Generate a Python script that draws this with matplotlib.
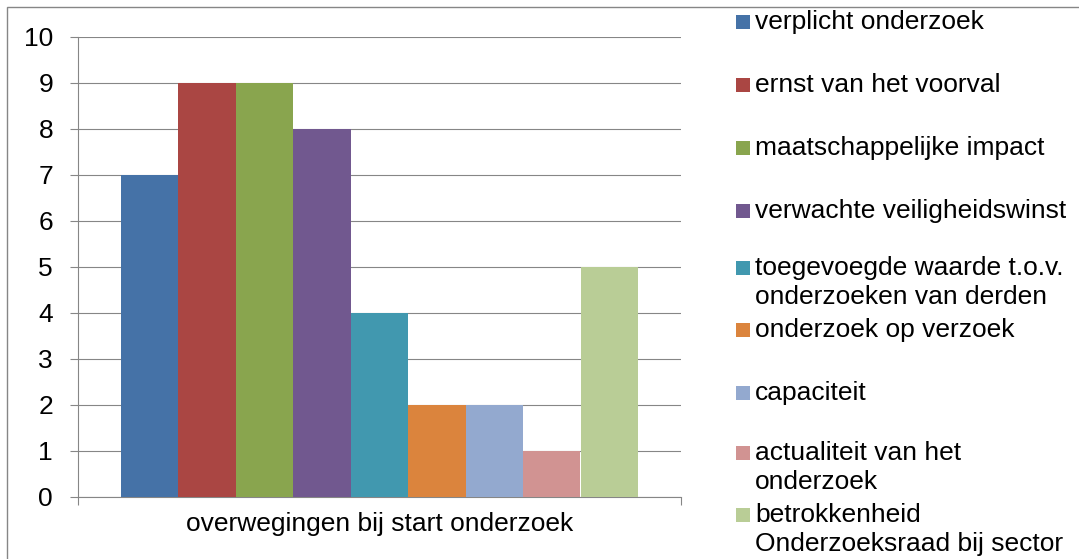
import matplotlib
matplotlib.use("Agg")
import matplotlib.pyplot as plt
from matplotlib.patches import Rectangle

categories = ["overwegingen bij start onderzoek"]
series_labels = [
    "verplicht onderzoek",
    "ernst van het voorval",
    "maatschappelijke impact",
    "verwachte veiligheidswinst",
    "toegevoegde waarde t.o.v.\nonderzoeken van derden",
    "onderzoek op verzoek",
    "capaciteit",
    "actualiteit van het\nonderzoek",
    "betrokkenheid\nOnderzoeksraad bij sector",
]
values = [7, 9, 9, 8, 4, 2, 2, 1, 5]
colors = ["#4572A7", "#AA4643", "#89A54E", "#71588F", "#4198AF",
          "#DB843D", "#93A9CF", "#D19392", "#B9CD96"]
yticks = list(range(0, 11))

plt.rcParams['font.family'] = ['Liberation Sans', 'DejaVu Sans']
FS = 19

W, H = 1079, 559
fig = plt.figure(figsize=(W / 100, H / 100), dpi=100)

def fx(px):
    return px / W

def fy(py):
    return 1 - py / H

# outer chart border
fig.patches.append(Rectangle((fx(7), fy(600)), fx(1200), fy(7) - fy(600),
                             transform=fig.transFigure, fill=False,
                             edgecolor="#868686", linewidth=1.0))

ax = fig.add_axes([fx(78), fy(497), fx(681) - fx(78), fy(37) - fy(497)])

n = len(values)
gap = 1.5
w = 1.0 / (n + gap)
start = -0.5 + gap * w / 2
for i, (v, c, lab) in enumerate(zip(values, colors, series_labels)):
    ax.bar(start + w * (i + 0.5), v, width=w, color=c, label=lab, zorder=3)

ax.set_xlim(-0.5, 0.5)
ax.set_ylim(0, 10)
ax.set_yticks(yticks)
ax.tick_params(axis='y', length=6, width=0.8, color="#868686", pad=12,
               labelsize=FS)
ax.yaxis.grid(True, color="#868686", linewidth=0.8, zorder=0)
ax.set_axisbelow(True)

ax.set_xticks([-0.5, 0.5])
ax.set_xticklabels(["", ""])
ax.tick_params(axis='x', which='major', length=6, width=0.8, color="#868686")
ax.set_xticks([0], minor=True)
ax.set_xticklabels(categories, minor=True)
ax.tick_params(axis='x', which='minor', length=0, pad=11, labelsize=FS)

for s in ["top", "right"]:
    ax.spines[s].set_visible(False)
for s in ["left", "bottom"]:
    ax.spines[s].set_color("#868686")
    ax.spines[s].set_linewidth(0.8)

# legend
entry_y = [22, 85, 148, 211, 268, 330, 393, 453, 515]
line_gap = 29
for lab, c, y in zip(series_labels, colors, entry_y):
    fig.patches.append(Rectangle((fx(736), fy(y + 7)), fx(14), fy(y - 7) - fy(y + 7),
                                 transform=fig.transFigure, facecolor=c,
                                 edgecolor='none'))
    for k, line in enumerate(lab.split("\n")):
        fig.text(fx(755), fy(y + k * line_gap), line, fontsize=FS,
                 va='center', ha='left', color="#000000")

fig.savefig("out.png", dpi=100)
